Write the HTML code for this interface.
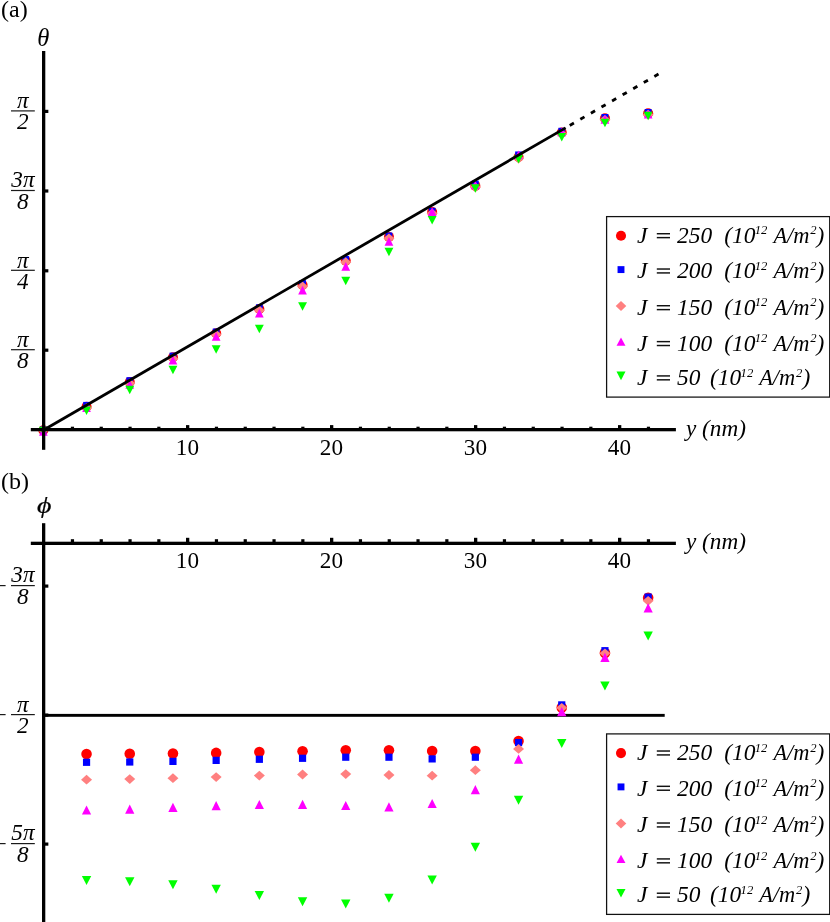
<!DOCTYPE html>
<html lang="en">
<head>
<meta charset="utf-8">
<title>theta and phi versus y</title>
<style>
html, body { margin: 0; padding: 0; background: #fff; }
body { width: 830px; height: 922px; overflow: hidden; font-family: "Liberation Serif", serif; }
svg { display: block; will-change: transform; }
text { font-family: "Liberation Serif", serif; font-size: 23.2px; fill: #000; }
.i { font-style: italic; }
.r { font-style: normal; }
.P { font-size: 24px; }
.L { font-size: 23.4px; }
.sup { font-size: 12.6px; }
.am { font-size: 22.4px; }
</style>
</head>
<body>
<svg width="830" height="922" viewBox="0 0 830 922">
<rect width="830" height="922" fill="#fff"/>
<text x="1.0" y="16.9" class="r P">(a)</text>
<text x="1.0" y="488.9" class="r P">(b)</text>
<text x="37.2" y="45.8" class="i" style="font-size:24.6px">θ</text>
<text transform="translate(36.9,512.6) scale(1.2,1)" class="i" stroke="#000" stroke-width="0.25">ϕ</text>
<g id="top">
<circle cx="43.35" cy="430.30" r="5.01" fill="#ff0000"/>
<circle cx="86.55" cy="406.80" r="5.01" fill="#ff0000"/>
<circle cx="129.75" cy="382.00" r="5.01" fill="#ff0000"/>
<circle cx="172.95" cy="357.30" r="5.01" fill="#ff0000"/>
<circle cx="216.15" cy="333.20" r="5.01" fill="#ff0000"/>
<circle cx="259.35" cy="309.00" r="5.01" fill="#ff0000"/>
<circle cx="302.55" cy="285.00" r="5.01" fill="#ff0000"/>
<circle cx="345.75" cy="260.80" r="5.01" fill="#ff0000"/>
<circle cx="388.95" cy="236.90" r="5.01" fill="#ff0000"/>
<circle cx="432.15" cy="212.10" r="5.01" fill="#ff0000"/>
<circle cx="475.35" cy="185.90" r="5.01" fill="#ff0000"/>
<circle cx="518.55" cy="157.05" r="5.01" fill="#ff0000"/>
<circle cx="561.75" cy="132.50" r="5.01" fill="#ff0000"/>
<circle cx="604.95" cy="118.35" r="5.01" fill="#ff0000"/>
<circle cx="648.15" cy="113.25" r="5.01" fill="#ff0000"/>
<rect x="39.95" y="426.50" width="6.80" height="6.80" fill="#0000ff"/>
<rect x="83.15" y="401.90" width="6.80" height="6.80" fill="#0000ff"/>
<rect x="126.35" y="377.20" width="6.80" height="6.80" fill="#0000ff"/>
<rect x="169.55" y="352.60" width="6.80" height="6.80" fill="#0000ff"/>
<rect x="212.75" y="328.50" width="6.80" height="6.80" fill="#0000ff"/>
<rect x="255.95" y="304.30" width="6.80" height="6.80" fill="#0000ff"/>
<rect x="299.15" y="280.10" width="6.80" height="6.80" fill="#0000ff"/>
<rect x="342.35" y="256.00" width="6.80" height="6.80" fill="#0000ff"/>
<rect x="385.55" y="232.50" width="6.80" height="6.80" fill="#0000ff"/>
<rect x="428.75" y="207.80" width="6.80" height="6.80" fill="#0000ff"/>
<rect x="471.95" y="180.60" width="6.80" height="6.80" fill="#0000ff"/>
<rect x="515.15" y="151.45" width="6.80" height="6.80" fill="#0000ff"/>
<rect x="558.35" y="127.80" width="6.80" height="6.80" fill="#0000ff"/>
<rect x="601.55" y="114.00" width="6.80" height="6.80" fill="#0000ff"/>
<rect x="644.75" y="109.00" width="6.80" height="6.80" fill="#0000ff"/>
<polygon points="37.85,430.20 43.35,425.30 48.85,430.20 43.35,435.10" fill="#ff8080"/>
<polygon points="81.05,408.10 86.55,403.20 92.05,408.10 86.55,413.00" fill="#ff8080"/>
<polygon points="124.25,383.30 129.75,378.40 135.25,383.30 129.75,388.20" fill="#ff8080"/>
<polygon points="167.45,358.70 172.95,353.80 178.45,358.70 172.95,363.60" fill="#ff8080"/>
<polygon points="210.65,334.60 216.15,329.70 221.65,334.60 216.15,339.50" fill="#ff8080"/>
<polygon points="253.85,310.40 259.35,305.50 264.85,310.40 259.35,315.30" fill="#ff8080"/>
<polygon points="297.05,286.50 302.55,281.60 308.05,286.50 302.55,291.40" fill="#ff8080"/>
<polygon points="340.25,262.20 345.75,257.30 351.25,262.20 345.75,267.10" fill="#ff8080"/>
<polygon points="383.45,238.30 388.95,233.40 394.45,238.30 388.95,243.20" fill="#ff8080"/>
<polygon points="426.65,213.50 432.15,208.60 437.65,213.50 432.15,218.40" fill="#ff8080"/>
<polygon points="469.85,187.30 475.35,182.40 480.85,187.30 475.35,192.20" fill="#ff8080"/>
<polygon points="513.05,158.50 518.55,153.60 524.05,158.50 518.55,163.40" fill="#ff8080"/>
<polygon points="556.25,133.90 561.75,129.00 567.25,133.90 561.75,138.80" fill="#ff8080"/>
<polygon points="599.45,119.80 604.95,114.90 610.45,119.80 604.95,124.70" fill="#ff8080"/>
<polygon points="642.65,114.70 648.15,109.80 653.65,114.70 648.15,119.60" fill="#ff8080"/>
<polygon points="39.00,435.75 47.70,435.75 43.35,427.05" fill="#ff00ff"/>
<polygon points="82.20,412.05 90.90,412.05 86.55,403.35" fill="#ff00ff"/>
<polygon points="125.40,388.75 134.10,388.75 129.75,380.05" fill="#ff00ff"/>
<polygon points="168.60,364.50 177.30,364.50 172.95,355.80" fill="#ff00ff"/>
<polygon points="211.80,340.70 220.50,340.70 216.15,332.00" fill="#ff00ff"/>
<polygon points="255.00,317.45 263.70,317.45 259.35,308.75" fill="#ff00ff"/>
<polygon points="298.20,294.55 306.90,294.55 302.55,285.85" fill="#ff00ff"/>
<polygon points="341.40,270.80 350.10,270.80 345.75,262.10" fill="#ff00ff"/>
<polygon points="384.60,245.70 393.30,245.70 388.95,237.00" fill="#ff00ff"/>
<polygon points="427.80,216.05 436.50,216.05 432.15,207.35" fill="#ff00ff"/>
<polygon points="471.00,189.35 479.70,189.35 475.35,180.65" fill="#ff00ff"/>
<polygon points="514.20,159.20 522.90,159.20 518.55,150.50" fill="#ff00ff"/>
<polygon points="557.40,136.20 566.10,136.20 561.75,127.50" fill="#ff00ff"/>
<polygon points="600.60,123.80 609.30,123.80 604.95,115.10" fill="#ff00ff"/>
<polygon points="643.80,118.55 652.50,118.55 648.15,109.85" fill="#ff00ff"/>
<polygon points="38.91,426.75 47.79,426.75 43.35,435.25" fill="#00ff00"/>
<polygon points="82.11,406.45 90.99,406.45 86.55,414.95" fill="#00ff00"/>
<polygon points="125.31,385.80 134.19,385.80 129.75,394.30" fill="#00ff00"/>
<polygon points="168.51,365.65 177.39,365.65 172.95,374.15" fill="#00ff00"/>
<polygon points="211.71,345.15 220.59,345.15 216.15,353.65" fill="#00ff00"/>
<polygon points="254.91,324.75 263.79,324.75 259.35,333.25" fill="#00ff00"/>
<polygon points="298.11,302.20 306.99,302.20 302.55,310.70" fill="#00ff00"/>
<polygon points="341.31,276.85 350.19,276.85 345.75,285.35" fill="#00ff00"/>
<polygon points="384.51,247.75 393.39,247.75 388.95,256.25" fill="#00ff00"/>
<polygon points="427.71,216.05 436.59,216.05 432.15,224.55" fill="#00ff00"/>
<polygon points="470.91,184.20 479.79,184.20 475.35,192.70" fill="#00ff00"/>
<polygon points="514.11,155.00 522.99,155.00 518.55,163.50" fill="#00ff00"/>
<polygon points="557.31,132.95 566.19,132.95 561.75,141.45" fill="#00ff00"/>
<polygon points="600.51,118.85 609.39,118.85 604.95,127.35" fill="#00ff00"/>
<polygon points="643.71,111.65 652.59,111.65 648.15,120.15" fill="#00ff00"/>
<line x1="43.65" y1="430.05" x2="565.60" y2="127.84" stroke="#000" stroke-width="2.8"/>
<line x1="569.75" y1="125.44" x2="659.40" y2="73.53" stroke="#000" stroke-width="2.8" stroke-dasharray="4.8 7.42"/>
<rect x="42.0" y="51.0" width="3.3" height="398.80" fill="#000"/>
<rect x="30.8" y="428.00" width="645.10" height="3.3" fill="#000"/>
<rect x="70.85" y="426.70" width="3.2" height="1.8" fill="#000"/>
<rect x="99.65" y="426.70" width="3.2" height="1.8" fill="#000"/>
<rect x="128.45" y="426.70" width="3.2" height="1.8" fill="#000"/>
<rect x="157.25" y="426.70" width="3.2" height="1.8" fill="#000"/>
<rect x="186.00" y="425.10" width="3.3" height="3.4" fill="#000"/>
<rect x="214.85" y="426.70" width="3.2" height="1.8" fill="#000"/>
<rect x="243.65" y="426.70" width="3.2" height="1.8" fill="#000"/>
<rect x="272.45" y="426.70" width="3.2" height="1.8" fill="#000"/>
<rect x="301.25" y="426.70" width="3.2" height="1.8" fill="#000"/>
<rect x="330.00" y="425.10" width="3.3" height="3.4" fill="#000"/>
<rect x="358.85" y="426.70" width="3.2" height="1.8" fill="#000"/>
<rect x="387.65" y="426.70" width="3.2" height="1.8" fill="#000"/>
<rect x="416.45" y="426.70" width="3.2" height="1.8" fill="#000"/>
<rect x="445.25" y="426.70" width="3.2" height="1.8" fill="#000"/>
<rect x="474.00" y="425.10" width="3.3" height="3.4" fill="#000"/>
<rect x="502.85" y="426.70" width="3.2" height="1.8" fill="#000"/>
<rect x="531.65" y="426.70" width="3.2" height="1.8" fill="#000"/>
<rect x="560.45" y="426.70" width="3.2" height="1.8" fill="#000"/>
<rect x="589.25" y="426.70" width="3.2" height="1.8" fill="#000"/>
<rect x="618.00" y="425.10" width="3.3" height="3.4" fill="#000"/>
<rect x="646.85" y="426.70" width="3.2" height="1.8" fill="#000"/>
<text x="187.45" y="455.0" text-anchor="middle" class="r">10</text>
<text x="331.45" y="455.0" text-anchor="middle" class="r">20</text>
<text x="475.45" y="455.0" text-anchor="middle" class="r">30</text>
<text x="619.45" y="455.0" text-anchor="middle" class="r">40</text>
<text x="686.0" y="435.5" class="i">y (nm)</text>
<rect x="43.65" y="109.80" width="4.7" height="3.2" fill="#000"/>
<rect x="11.0" y="110.30" width="23.8" height="1.2" fill="#1a1a1a"/>
<text x="22.9" y="108.20" text-anchor="middle" class="i">π</text>
<text x="22.9" y="129.40" text-anchor="middle" class="i">2</text>
<rect x="43.65" y="189.40" width="4.7" height="3.2" fill="#000"/>
<rect x="11.0" y="189.90" width="23.8" height="1.2" fill="#1a1a1a"/>
<text x="22.9" y="187.20" text-anchor="middle" class="i">3π</text>
<text x="22.9" y="209.00" text-anchor="middle" class="i">8</text>
<rect x="43.65" y="269.20" width="4.7" height="3.2" fill="#000"/>
<rect x="11.0" y="269.70" width="23.8" height="1.2" fill="#1a1a1a"/>
<text x="22.9" y="267.60" text-anchor="middle" class="i">π</text>
<text x="22.9" y="288.80" text-anchor="middle" class="i">4</text>
<rect x="43.65" y="348.60" width="4.7" height="3.2" fill="#000"/>
<rect x="11.0" y="349.10" width="23.8" height="1.2" fill="#1a1a1a"/>
<text x="22.9" y="347.00" text-anchor="middle" class="i">π</text>
<text x="22.9" y="368.20" text-anchor="middle" class="i">8</text>
<rect x="606.6" y="216.60" width="223.1" height="180.5" fill="#fff" stroke="#111" stroke-width="1.25"/>
<circle cx="621.00" cy="235.80" r="5.05" fill="#ff0000"/>
<rect x="656.8" y="233.00" width="13.2" height="1.45" fill="#111"/><rect x="656.8" y="236.90" width="13.2" height="1.45" fill="#111"/>
<text y="242.90" class="i L"><tspan x="637.0">J</tspan><tspan x="677.0">250</tspan><tspan x="724.20">(10</tspan><tspan x="773.40" class="am">A/m</tspan><tspan x="816.60">)</tspan></text>
<text y="234.40" class="i sup"><tspan x="754.80">12</tspan><tspan x="810.20">2</tspan></text>
<rect x="617.55" y="266.15" width="6.90" height="6.90" fill="#0000ff"/>
<rect x="656.8" y="268.30" width="13.2" height="1.45" fill="#111"/><rect x="656.8" y="272.20" width="13.2" height="1.45" fill="#111"/>
<text y="278.20" class="i L"><tspan x="637.0">J</tspan><tspan x="677.0">200</tspan><tspan x="724.20">(10</tspan><tspan x="773.40" class="am">A/m</tspan><tspan x="816.60">)</tspan></text>
<text y="269.70" class="i sup"><tspan x="754.80">12</tspan><tspan x="810.20">2</tspan></text>
<polygon points="615.70,306.10 621.00,301.10 626.30,306.10 621.00,311.10" fill="#ff8080"/>
<rect x="656.8" y="305.00" width="13.2" height="1.45" fill="#111"/><rect x="656.8" y="308.90" width="13.2" height="1.45" fill="#111"/>
<text y="314.90" class="i L"><tspan x="637.0">J</tspan><tspan x="677.0">150</tspan><tspan x="724.20">(10</tspan><tspan x="773.40" class="am">A/m</tspan><tspan x="816.60">)</tspan></text>
<text y="306.40" class="i sup"><tspan x="754.80">12</tspan><tspan x="810.20">2</tspan></text>
<polygon points="616.55,345.75 625.45,345.75 621.00,337.45" fill="#ff00ff"/>
<rect x="656.8" y="340.90" width="13.2" height="1.45" fill="#111"/><rect x="656.8" y="344.80" width="13.2" height="1.45" fill="#111"/>
<text y="350.80" class="i L"><tspan x="637.0">J</tspan><tspan x="677.0">100</tspan><tspan x="724.20">(10</tspan><tspan x="773.40" class="am">A/m</tspan><tspan x="816.60">)</tspan></text>
<text y="342.30" class="i sup"><tspan x="754.80">12</tspan><tspan x="810.20">2</tspan></text>
<polygon points="616.50,371.60 625.50,371.60 621.00,380.20" fill="#00ff00"/>
<rect x="656.8" y="375.20" width="13.2" height="1.45" fill="#111"/><rect x="656.8" y="379.10" width="13.2" height="1.45" fill="#111"/>
<text y="385.10" class="i L"><tspan x="637.0">J</tspan><tspan x="677.0">50</tspan><tspan x="710.00">(10</tspan><tspan x="759.20" class="am">A/m</tspan><tspan x="802.40">)</tspan></text>
<text y="376.60" class="i sup"><tspan x="740.60">12</tspan><tspan x="796.00">2</tspan></text>
</g>
<g id="bot">
<rect x="43.65" y="713.9" width="621.05" height="2.9" fill="#000"/>
<circle cx="86.55" cy="754.10" r="5.30" fill="#ff0000"/>
<circle cx="129.75" cy="753.80" r="5.30" fill="#ff0000"/>
<circle cx="172.95" cy="753.50" r="5.30" fill="#ff0000"/>
<circle cx="216.15" cy="752.90" r="5.30" fill="#ff0000"/>
<circle cx="259.35" cy="752.10" r="5.30" fill="#ff0000"/>
<circle cx="302.55" cy="751.30" r="5.30" fill="#ff0000"/>
<circle cx="345.75" cy="750.20" r="5.30" fill="#ff0000"/>
<circle cx="388.95" cy="750.20" r="5.30" fill="#ff0000"/>
<circle cx="432.15" cy="751.00" r="5.30" fill="#ff0000"/>
<circle cx="475.35" cy="751.00" r="5.30" fill="#ff0000"/>
<circle cx="518.55" cy="741.00" r="5.30" fill="#ff0000"/>
<circle cx="561.75" cy="707.50" r="5.30" fill="#ff0000"/>
<circle cx="604.95" cy="652.90" r="5.30" fill="#ff0000"/>
<circle cx="648.15" cy="597.70" r="5.30" fill="#ff0000"/>
<rect x="82.95" y="758.70" width="7.20" height="7.20" fill="#0000ff"/>
<rect x="126.15" y="758.40" width="7.20" height="7.20" fill="#0000ff"/>
<rect x="169.35" y="757.80" width="7.20" height="7.20" fill="#0000ff"/>
<rect x="212.55" y="756.80" width="7.20" height="7.20" fill="#0000ff"/>
<rect x="255.75" y="755.70" width="7.20" height="7.20" fill="#0000ff"/>
<rect x="298.95" y="754.70" width="7.20" height="7.20" fill="#0000ff"/>
<rect x="342.15" y="753.60" width="7.20" height="7.20" fill="#0000ff"/>
<rect x="385.35" y="753.60" width="7.20" height="7.20" fill="#0000ff"/>
<rect x="428.55" y="755.30" width="7.20" height="7.20" fill="#0000ff"/>
<rect x="471.75" y="753.60" width="7.20" height="7.20" fill="#0000ff"/>
<rect x="514.95" y="739.00" width="7.20" height="7.20" fill="#0000ff"/>
<rect x="558.15" y="701.30" width="7.20" height="7.20" fill="#0000ff"/>
<rect x="601.35" y="647.10" width="7.20" height="7.20" fill="#0000ff"/>
<rect x="644.55" y="593.50" width="7.20" height="7.20" fill="#0000ff"/>
<polygon points="81.05,779.70 86.55,774.80 92.05,779.70 86.55,784.60" fill="#ff8080"/>
<polygon points="124.25,779.10 129.75,774.20 135.25,779.10 129.75,784.00" fill="#ff8080"/>
<polygon points="167.45,778.20 172.95,773.30 178.45,778.20 172.95,783.10" fill="#ff8080"/>
<polygon points="210.65,777.10 216.15,772.20 221.65,777.10 216.15,782.00" fill="#ff8080"/>
<polygon points="253.85,775.60 259.35,770.70 264.85,775.60 259.35,780.50" fill="#ff8080"/>
<polygon points="297.05,774.50 302.55,769.60 308.05,774.50 302.55,779.40" fill="#ff8080"/>
<polygon points="340.25,774.10 345.75,769.20 351.25,774.10 345.75,779.00" fill="#ff8080"/>
<polygon points="383.45,775.00 388.95,770.10 394.45,775.00 388.95,779.90" fill="#ff8080"/>
<polygon points="426.65,775.70 432.15,770.80 437.65,775.70 432.15,780.60" fill="#ff8080"/>
<polygon points="469.85,770.20 475.35,765.30 480.85,770.20 475.35,775.10" fill="#ff8080"/>
<polygon points="513.05,748.90 518.55,744.00 524.05,748.90 518.55,753.80" fill="#ff8080"/>
<polygon points="556.25,707.80 561.75,702.90 567.25,707.80 561.75,712.70" fill="#ff8080"/>
<polygon points="599.45,653.30 604.95,648.40 610.45,653.30 604.95,658.20" fill="#ff8080"/>
<polygon points="642.65,600.80 648.15,595.90 653.65,600.80 648.15,605.70" fill="#ff8080"/>
<polygon points="81.95,814.60 91.15,814.60 86.55,805.40" fill="#ff00ff"/>
<polygon points="125.15,813.70 134.35,813.70 129.75,804.50" fill="#ff00ff"/>
<polygon points="168.35,812.00 177.55,812.00 172.95,802.80" fill="#ff00ff"/>
<polygon points="211.55,810.30 220.75,810.30 216.15,801.10" fill="#ff00ff"/>
<polygon points="254.75,809.10 263.95,809.10 259.35,799.90" fill="#ff00ff"/>
<polygon points="297.95,808.90 307.15,808.90 302.55,799.70" fill="#ff00ff"/>
<polygon points="341.15,810.10 350.35,810.10 345.75,800.90" fill="#ff00ff"/>
<polygon points="384.35,811.40 393.55,811.40 388.95,802.20" fill="#ff00ff"/>
<polygon points="427.55,808.10 436.75,808.10 432.15,798.90" fill="#ff00ff"/>
<polygon points="470.75,794.30 479.95,794.30 475.35,785.10" fill="#ff00ff"/>
<polygon points="513.95,763.70 523.15,763.70 518.55,754.50" fill="#ff00ff"/>
<polygon points="557.15,716.30 566.35,716.30 561.75,707.10" fill="#ff00ff"/>
<polygon points="600.35,662.00 609.55,662.00 604.95,652.80" fill="#ff00ff"/>
<polygon points="643.55,612.40 652.75,612.40 648.15,603.20" fill="#ff00ff"/>
<polygon points="81.85,876.00 91.25,876.00 86.55,885.00" fill="#00ff00"/>
<polygon points="125.05,877.30 134.45,877.30 129.75,886.30" fill="#00ff00"/>
<polygon points="168.25,880.20 177.65,880.20 172.95,889.20" fill="#00ff00"/>
<polygon points="211.45,884.80 220.85,884.80 216.15,893.80" fill="#00ff00"/>
<polygon points="254.65,891.00 264.05,891.00 259.35,900.00" fill="#00ff00"/>
<polygon points="297.85,897.30 307.25,897.30 302.55,906.30" fill="#00ff00"/>
<polygon points="341.05,899.60 350.45,899.60 345.75,908.60" fill="#00ff00"/>
<polygon points="384.25,893.80 393.65,893.80 388.95,902.80" fill="#00ff00"/>
<polygon points="427.45,875.40 436.85,875.40 432.15,884.40" fill="#00ff00"/>
<polygon points="470.65,842.80 480.05,842.80 475.35,851.80" fill="#00ff00"/>
<polygon points="513.85,795.80 523.25,795.80 518.55,804.80" fill="#00ff00"/>
<polygon points="557.05,739.10 566.45,739.10 561.75,748.10" fill="#00ff00"/>
<polygon points="600.25,681.40 609.65,681.40 604.95,690.40" fill="#00ff00"/>
<polygon points="643.45,631.40 652.85,631.40 648.15,640.40" fill="#00ff00"/>
<rect x="42.0" y="523.2" width="3.3" height="398.80" fill="#000"/>
<rect x="30.8" y="541.70" width="645.10" height="3.3" fill="#000"/>
<rect x="70.85" y="539.20" width="3.2" height="3.0" fill="#000"/>
<rect x="99.65" y="539.20" width="3.2" height="3.0" fill="#000"/>
<rect x="128.45" y="539.20" width="3.2" height="3.0" fill="#000"/>
<rect x="157.25" y="539.20" width="3.2" height="3.0" fill="#000"/>
<rect x="186.00" y="537.80" width="3.3" height="4.4" fill="#000"/>
<rect x="214.85" y="539.20" width="3.2" height="3.0" fill="#000"/>
<rect x="243.65" y="539.20" width="3.2" height="3.0" fill="#000"/>
<rect x="272.45" y="539.20" width="3.2" height="3.0" fill="#000"/>
<rect x="301.25" y="539.20" width="3.2" height="3.0" fill="#000"/>
<rect x="330.00" y="537.80" width="3.3" height="4.4" fill="#000"/>
<rect x="358.85" y="539.20" width="3.2" height="3.0" fill="#000"/>
<rect x="387.65" y="539.20" width="3.2" height="3.0" fill="#000"/>
<rect x="416.45" y="539.20" width="3.2" height="3.0" fill="#000"/>
<rect x="445.25" y="539.20" width="3.2" height="3.0" fill="#000"/>
<rect x="474.00" y="537.80" width="3.3" height="4.4" fill="#000"/>
<rect x="502.85" y="539.20" width="3.2" height="3.0" fill="#000"/>
<rect x="531.65" y="539.20" width="3.2" height="3.0" fill="#000"/>
<rect x="560.45" y="539.20" width="3.2" height="3.0" fill="#000"/>
<rect x="589.25" y="539.20" width="3.2" height="3.0" fill="#000"/>
<rect x="618.00" y="537.80" width="3.3" height="4.4" fill="#000"/>
<rect x="646.85" y="539.20" width="3.2" height="3.0" fill="#000"/>
<text x="187.45" y="568.3" text-anchor="middle" class="r">10</text>
<text x="331.45" y="568.3" text-anchor="middle" class="r">20</text>
<text x="475.45" y="568.3" text-anchor="middle" class="r">30</text>
<text x="619.45" y="568.3" text-anchor="middle" class="r">40</text>
<text x="686.0" y="549.0" class="i">y (nm)</text>
<rect x="43.65" y="584.50" width="4.7" height="3.2" fill="#000"/>
<rect x="11.0" y="585.00" width="23.8" height="1.2" fill="#1a1a1a"/>
<text x="22.9" y="582.30" text-anchor="middle" class="i">3π</text>
<text x="22.9" y="604.10" text-anchor="middle" class="i">8</text>
<rect x="0" y="585.00" width="5.6" height="1.2" fill="#1a1a1a"/>
<rect x="43.65" y="713.50" width="4.7" height="3.2" fill="#000"/>
<rect x="11.0" y="714.00" width="23.8" height="1.2" fill="#1a1a1a"/>
<text x="22.9" y="711.90" text-anchor="middle" class="i">π</text>
<text x="22.9" y="733.10" text-anchor="middle" class="i">2</text>
<rect x="0" y="714.00" width="5.6" height="1.2" fill="#1a1a1a"/>
<rect x="43.65" y="842.50" width="4.7" height="3.2" fill="#000"/>
<rect x="11.0" y="843.00" width="23.8" height="1.2" fill="#1a1a1a"/>
<text x="22.9" y="840.30" text-anchor="middle" class="i">5π</text>
<text x="22.9" y="862.10" text-anchor="middle" class="i">8</text>
<rect x="0" y="843.00" width="5.6" height="1.2" fill="#1a1a1a"/>
<rect x="606.6" y="733.90" width="223.1" height="180.5" fill="#fff" stroke="#111" stroke-width="1.25"/>
<circle cx="621.00" cy="753.10" r="5.05" fill="#ff0000"/>
<rect x="656.8" y="750.30" width="13.2" height="1.45" fill="#111"/><rect x="656.8" y="754.20" width="13.2" height="1.45" fill="#111"/>
<text y="760.20" class="i L"><tspan x="637.0">J</tspan><tspan x="677.0">250</tspan><tspan x="724.20">(10</tspan><tspan x="773.40" class="am">A/m</tspan><tspan x="816.60">)</tspan></text>
<text y="751.70" class="i sup"><tspan x="754.80">12</tspan><tspan x="810.20">2</tspan></text>
<rect x="617.55" y="783.45" width="6.90" height="6.90" fill="#0000ff"/>
<rect x="656.8" y="785.60" width="13.2" height="1.45" fill="#111"/><rect x="656.8" y="789.50" width="13.2" height="1.45" fill="#111"/>
<text y="795.50" class="i L"><tspan x="637.0">J</tspan><tspan x="677.0">200</tspan><tspan x="724.20">(10</tspan><tspan x="773.40" class="am">A/m</tspan><tspan x="816.60">)</tspan></text>
<text y="787.00" class="i sup"><tspan x="754.80">12</tspan><tspan x="810.20">2</tspan></text>
<polygon points="615.70,823.40 621.00,818.40 626.30,823.40 621.00,828.40" fill="#ff8080"/>
<rect x="656.8" y="822.30" width="13.2" height="1.45" fill="#111"/><rect x="656.8" y="826.20" width="13.2" height="1.45" fill="#111"/>
<text y="832.20" class="i L"><tspan x="637.0">J</tspan><tspan x="677.0">150</tspan><tspan x="724.20">(10</tspan><tspan x="773.40" class="am">A/m</tspan><tspan x="816.60">)</tspan></text>
<text y="823.70" class="i sup"><tspan x="754.80">12</tspan><tspan x="810.20">2</tspan></text>
<polygon points="616.55,863.05 625.45,863.05 621.00,854.75" fill="#ff00ff"/>
<rect x="656.8" y="858.20" width="13.2" height="1.45" fill="#111"/><rect x="656.8" y="862.10" width="13.2" height="1.45" fill="#111"/>
<text y="868.10" class="i L"><tspan x="637.0">J</tspan><tspan x="677.0">100</tspan><tspan x="724.20">(10</tspan><tspan x="773.40" class="am">A/m</tspan><tspan x="816.60">)</tspan></text>
<text y="859.60" class="i sup"><tspan x="754.80">12</tspan><tspan x="810.20">2</tspan></text>
<polygon points="616.50,888.90 625.50,888.90 621.00,897.50" fill="#00ff00"/>
<rect x="656.8" y="892.50" width="13.2" height="1.45" fill="#111"/><rect x="656.8" y="896.40" width="13.2" height="1.45" fill="#111"/>
<text y="902.40" class="i L"><tspan x="637.0">J</tspan><tspan x="677.0">50</tspan><tspan x="710.00">(10</tspan><tspan x="759.20" class="am">A/m</tspan><tspan x="802.40">)</tspan></text>
<text y="893.90" class="i sup"><tspan x="740.60">12</tspan><tspan x="796.00">2</tspan></text>
</g>
</svg>
</body>
</html>
